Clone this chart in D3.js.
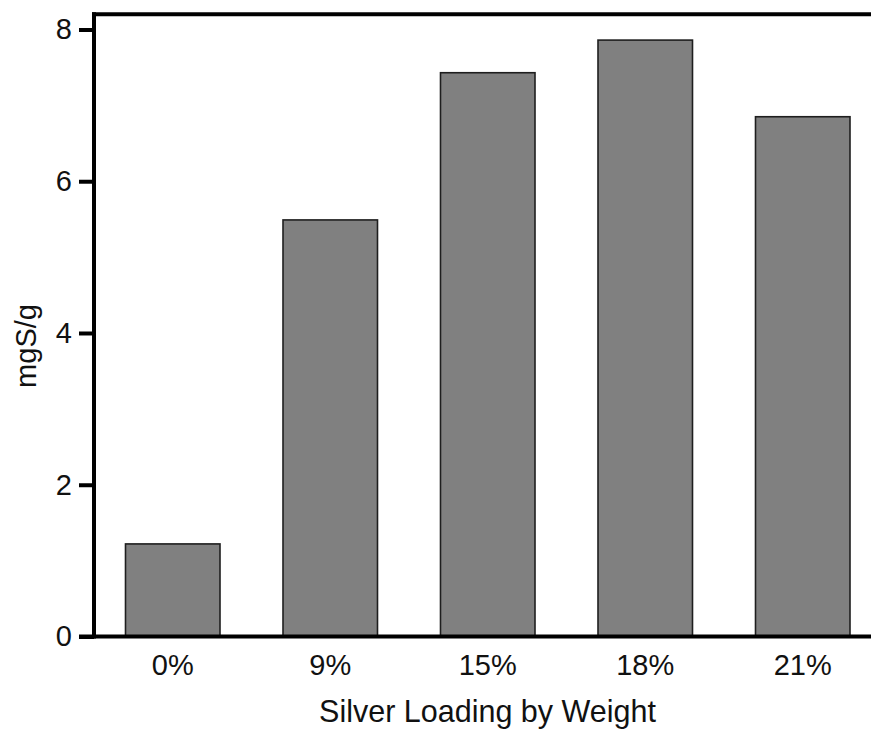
<!DOCTYPE html>
<html>
<head>
<meta charset="utf-8">
<script src="https://cdn.jsdelivr.net/npm/d3@7"></script>
<style>
  html, body { margin: 0; padding: 0; background: #fff; overflow: hidden; }
  svg { display: block; font-family: "Liberation Sans", Arial, sans-serif; }
</style>
</head>
<body>
<svg id="chart" width="871" height="729"></svg>
<script>
// Sulfur uptake vs. silver loading
const categories = ["0%", "9%", "15%", "18%", "21%"];
const values = [1.22, 5.49, 7.43, 7.86, 6.85];
const yTicks = [0, 2, 4, 6, 8];
const xTitle = "Silver Loading by Weight";
const yTitle = "mgS/g";

const svg = d3.select("#chart");
const plotLeft = 94, plotRight = 881.5, plotTop = 14.3, plotBottom = 636.5;

const x = d3.scaleBand()
  .domain(categories)
  .range([plotLeft, plotRight])
  .paddingInner(0.4)
  .paddingOuter(0.2);

const y = d3.scaleLinear()
  .domain([0, 8.2])
  .range([plotBottom, plotTop]);

// bars
svg.append("g")
  .selectAll("rect")
  .data(values)
  .join("rect")
  .attr("x", (d, i) => x(categories[i]))
  .attr("y", d => y(d))
  .attr("width", x.bandwidth())
  .attr("height", d => y(0) - y(d))
  .attr("fill", "#808080")
  .attr("stroke", "#1e1e1e")
  .attr("stroke-width", 1.6);

// top frame line
svg.append("line")
  .attr("x1", plotLeft - 2).attr("x2", plotRight)
  .attr("y1", plotTop).attr("y2", plotTop)
  .attr("stroke", "#000").attr("stroke-width", 4);

// y axis
const yAxis = svg.append("g")
  .attr("transform", `translate(${plotLeft},0)`)
  .call(d3.axisLeft(y).tickValues(yTicks).tickFormat(d3.format("d")).tickSize(15).tickPadding(7));
yAxis.select(".domain").remove();
yAxis.append("line")
  .attr("x1", 0).attr("x2", 0)
  .attr("y1", plotTop - 2).attr("y2", plotBottom + 2)
  .attr("stroke", "#000").attr("stroke-width", 4);
yAxis.selectAll(".tick line").attr("stroke", "#000").attr("stroke-width", 4);
yAxis.selectAll(".tick text")
  .attr("font-size", 29)
  .attr("fill", "#111")
  .attr("font-family", "'Liberation Sans', Arial, sans-serif");

// x axis
const xAxis = svg.append("g")
  .attr("transform", `translate(0,${plotBottom})`)
  .call(d3.axisBottom(x).tickSize(0).tickPadding(38.5));
xAxis.select(".domain").remove();
xAxis.append("line")
  .attr("x1", plotLeft - 15).attr("x2", plotRight)
  .attr("y1", 0).attr("y2", 0)
  .attr("stroke", "#000").attr("stroke-width", 4);
xAxis.selectAll(".tick text")
  .attr("font-size", 29)
  .attr("fill", "#111")
  .attr("dy", 0)
  .attr("font-family", "'Liberation Sans', Arial, sans-serif");

// axis titles
svg.append("text")
  .attr("x", 487.5).attr("y", 722)
  .attr("text-anchor", "middle")
  .attr("font-size", 30.5)
  .attr("fill", "#111")
  .text(xTitle);

svg.append("text")
  .attr("transform", "translate(36,346) rotate(-90)")
  .attr("text-anchor", "middle")
  .attr("font-size", 29)
  .attr("fill", "#111")
  .text(yTitle);
</script>
</body>
</html>
